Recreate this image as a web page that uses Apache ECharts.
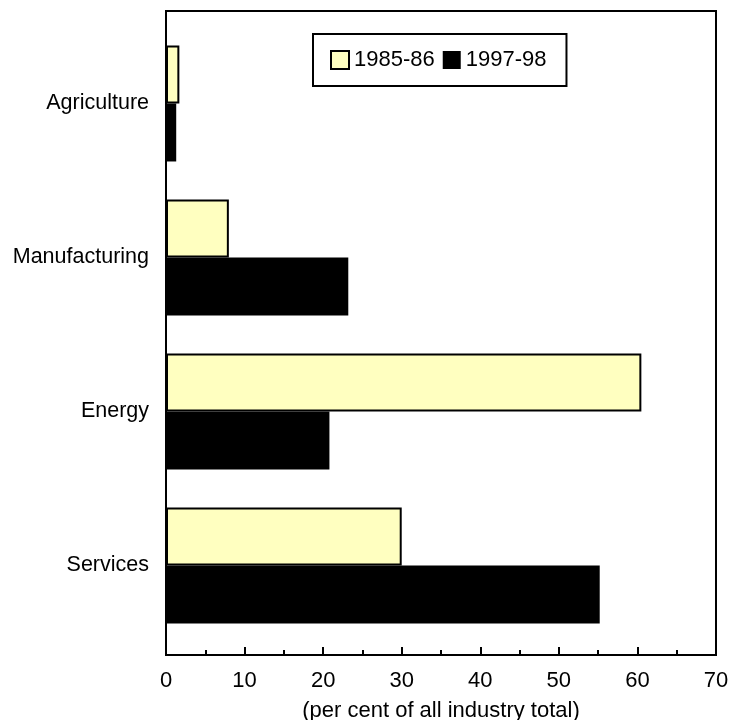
<!DOCTYPE html>
<html>
<head>
<meta charset="utf-8">
<script src="https://cdn.jsdelivr.net/npm/echarts@6/dist/echarts.min.js"></script>
<style>
  html, body { margin: 0; padding: 0; background: #fff; }
  #chart { width: 739px; height: 720px; }
</style>
</head>
<body>
<div id="chart"></div>
<script>
// Industry shares (per cent of all industry total)
const categories = ['Agriculture', 'Manufacturing', 'Energy', 'Services'];
const share1985 = [1.7, 8.0, 60.5, 30.0];
const share1997 = [1.3, 23.2, 20.8, 55.2];
const seriesNames = ['1985-86', '1997-98'];
const xTicks = { min: 0, max: 70, interval: 10 };

const FONT = "'Liberation Sans', Arial, sans-serif";
const chart = echarts.init(document.getElementById('chart'), null, { renderer: 'canvas' });

chart.setOption({
  animation: false,
  backgroundColor: '#fff',
  textStyle: { fontFamily: FONT, color: '#000' },
  legend: {
    data: seriesNames,
    left: 313,
    top: 34,
    orient: 'horizontal',
    icon: 'rect',
    itemWidth: 18,
    itemHeight: 18,
    itemGap: 8,
    padding: [15, 20, 15, 17],
    borderColor: '#000',
    borderWidth: 2,
    backgroundColor: '#fff',
    textStyle: { fontFamily: FONT, fontSize: 22, color: '#000' }
  },
  grid: [
    // outer frame with the value axis
    { left: 166, right: 23, top: 11, bottom: 65, show: true, borderColor: '#000', borderWidth: 2, backgroundColor: 'transparent', containLabel: false, outerBoundsMode: 'none' },
    // inner band area holding the categories
    { left: 166, right: 23, top: 26.5, bottom: 77.5, containLabel: false, outerBoundsMode: 'none' }
  ],
  xAxis: [
    {
      gridIndex: 0,
      type: 'value',
      min: xTicks.min, max: xTicks.max, interval: xTicks.interval,
      name: '(per cent of all industry total)',
      nameLocation: 'middle',
      nameGap: 45,
      nameTextStyle: { fontFamily: FONT, fontSize: 22, color: '#000' },
      axisLine: { show: true, lineStyle: { color: '#000', width: 2 } },
      axisTick: { show: true, inside: true, length: 8, lineStyle: { color: '#000', width: 2 } },
      minorTick: { show: true, splitNumber: 2, length: 5, lineStyle: { color: '#000', width: 2 } },
      axisLabel: { fontFamily: FONT, fontSize: 22, color: '#000', margin: 15 },
      splitLine: { show: false }
    },
    {
      gridIndex: 1,
      type: 'value',
      min: xTicks.min, max: xTicks.max,
      show: false
    }
  ],
  yAxis: [
    { gridIndex: 0, type: 'value', show: false },
    {
      gridIndex: 1,
      type: 'category',
      data: categories,
      inverse: true,
      axisLine: { show: false },
      axisTick: { show: false },
      axisLabel: { fontFamily: FONT, fontSize: 21.5, color: '#000', margin: 17 }
    }
  ],
  series: [
    {
      name: seriesNames[0],
      type: 'bar',
      xAxisIndex: 1,
      yAxisIndex: 1,
      data: share1985,
      barGap: '0%',
      barCategoryGap: '24.7%',
      itemStyle: { color: '#FFFFC0', borderColor: '#000', borderWidth: 2 }
    },
    {
      name: seriesNames[1],
      type: 'bar',
      xAxisIndex: 1,
      yAxisIndex: 1,
      data: share1997,
      barGap: '0%',
      barCategoryGap: '24.7%',
      itemStyle: { color: '#000' }
    }
  ]
});
</script>
</body>
</html>
